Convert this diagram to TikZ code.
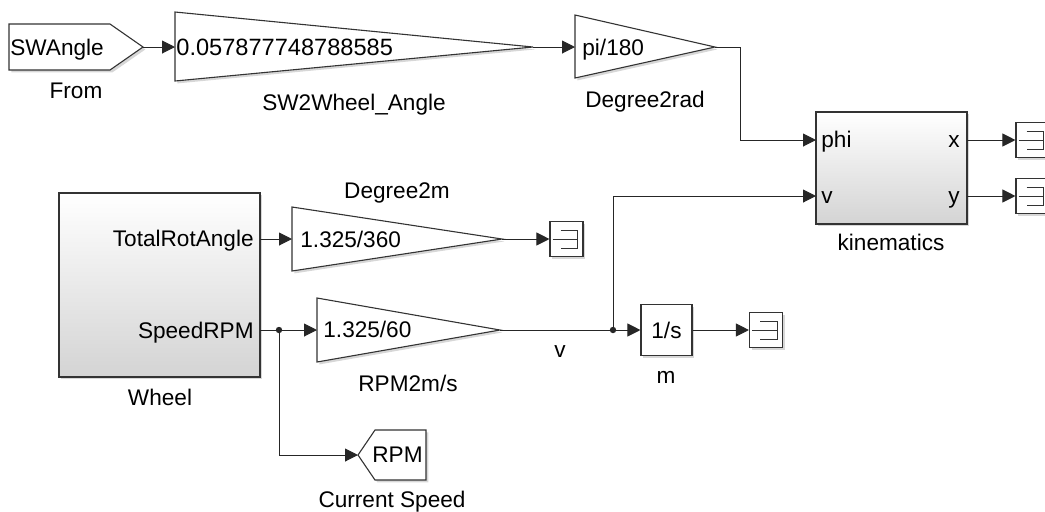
\documentclass[tikz,border=0pt]{standalone}
\usepackage{fontspec}
\setmainfont{Liberation Sans}
\usetikzlibrary{arrows.meta,shadows}

\begin{document}
\begin{tikzpicture}[
    x=0.5pt,y=-0.5pt,
    blk/.style={draw=black!80, line width=0.55pt, fill=white, drop shadow={shadow xshift=1.2pt, shadow yshift=-1.2pt, fill=black!35, opacity=0.45}},
    subsys/.style={blk, top color=white, bottom color=black!17, inner sep=0pt},
    scopeblk/.style={blk, minimum width=16.5pt, minimum height=17.5pt, inner sep=0pt,
      path picture={
        \draw[line width=0.5pt] ([shift={(-6,-9)}]path picture bounding box.center) -- ++(17,0) -- ++(0,18) -- ++(-17,0);
        \draw[line width=0.5pt] ([shift={(-14,0)}]path picture bounding box.center) -- ++(25,0);
      }},
    txt/.style={font=\fontsize{11.3}{13.5}\selectfont, inner sep=0pt, text=black},
    sig/.style={draw=black!85, line width=0.5pt, -{Triangle[length=6.5pt,width=6.5pt]}},
    dot/.style={fill=black!85}
  ]
    \useasboundingbox (0,0) rectangle (1045,511);

    % ports
    \coordinate (from out) at (143,47);
    \coordinate (sw2w in) at (175,47);
    \coordinate (sw2w out) at (533,47);
    \coordinate (d2r in) at (575,47);
    \coordinate (d2r out) at (715,47);
    \coordinate (kin phi) at (816,140);
    \coordinate (kin v) at (816,196);
    \coordinate (kin x) at (967,140);
    \coordinate (kin y) at (967,196);
    \coordinate (wheel rot) at (260,239);
    \coordinate (wheel spd) at (260,330);
    \coordinate (d2m in) at (292,239);
    \coordinate (d2m out) at (502,239);
    \coordinate (rpm in) at (317,330);
    \coordinate (rpm out) at (500,330);
    \coordinate (split1) at (279,330);
    \coordinate (split2) at (613,330);
    \coordinate (goto in) at (358,455);

    % blocks
    \draw[blk] (9,24) -- (110,24) -- (from out) -- (110,70) -- (9,70) -- cycle;
    \draw[blk] (175,12) -- (sw2w out) -- (175,81) -- cycle;
    \draw[blk] (575,15) -- (d2r out) -- (575,78) -- cycle;
    \draw[blk] (292,207) -- (d2m out) -- (292,271) -- cycle;
    \draw[blk] (317,298) -- (rpm out) -- (317,362) -- cycle;
    \draw[blk] (goto in) -- (375,430) -- (426,430) -- (426,480) -- (375,480) -- cycle;

    \node[subsys, minimum width=100.5pt, minimum height=92pt] (wheel) at (159.5,285) {};
    \node[subsys, minimum width=75.5pt, minimum height=56pt] (kin) at (891.5,168) {};
    \node[blk, txt, minimum width=25.5pt, minimum height=25.5pt] (integ) at (666.5,330) {1/s};

    \node[scopeblk] (d2mscope) at (566.5,239) {};
    \node[scopeblk] (integscope) at (766,330) {};
    \node[scopeblk] (xscope) at (1032.5,140) {};
    \node[scopeblk] (yscope) at (1032.5,196) {};

    % block texts
    \node[txt, anchor=base west] (fromtag) at (10,55) {SWAngle};
    \node[txt, anchor=base west, font=\fontsize{11.8}{14}\selectfont] (sw2wval) at (176,55) {0.057877748788585};
    \node[txt, anchor=base west] (d2rval) at (582,55) {pi/180};
    \node[txt, anchor=base west] (d2mval) at (300,247) {1.325/360};
    \node[txt, anchor=base west] (rpmval) at (323,337) {1.325/60};
    \node[txt, anchor=base west] (gototag) at (372,462) {RPM};

    \node[txt, anchor=base east] (rotport) at (254,246) {TotalRotAngle};
    \node[txt, anchor=base east] (spdport) at (254,338) {SpeedRPM};
    \node[txt, anchor=base west] (phiport) at (821,147) {phi};
    \node[txt, anchor=base west] (vport) at (821,203) {v};
    \node[txt, anchor=base east] (xport) at (960,147) {x};
    \node[txt, anchor=base east] (yport) at (960,203) {y};

    % block names
    \node[txt, anchor=base] (fromname) at (76,98) {From};
    \node[txt, anchor=base] (sw2wname) at (354,110) {SW2Wheel\_Angle};
    \node[txt, anchor=base] (d2rname) at (645,107) {Degree2rad};
    \node[txt, anchor=base] (d2mname) at (397,198) {Degree2m};
    \node[txt, anchor=base] (kinname) at (891,250) {kinematics};
    \node[txt, anchor=base] (wheelname) at (160,405) {Wheel};
    \node[txt, anchor=base] (rpmname) at (408,391) {RPM2m/s};
    \node[txt, anchor=base] (integname) at (666,383) {m};
    \node[txt, anchor=base] (gotoname) at (392,507) {Current Speed};
    \node[txt, anchor=base] (vsig) at (560,357) {v};

    % signals
    \draw[sig] (from out) -- (sw2w in);
    \draw[sig] (sw2w out) -- (d2r in);
    \draw[sig] (d2r out) -- ++(25,0) |- (kin phi);
    \draw[sig] (wheel rot) -- (d2m in);
    \draw[sig] (d2m out) -- (d2mscope.west);
    \draw[sig] (wheel spd) -- (rpm in);
    \draw[sig] (split1) |- (goto in);
    \draw[sig] (rpm out) -- (integ.west);
    \draw[sig] (split2) |- (kin v);
    \draw[sig] (integ.east) -- (integscope.west);
    \draw[sig] (kin x) -- (xscope.west);
    \draw[sig] (kin y) -- (yscope.west);
    \fill[dot] (split1) circle (1.6pt);
    \fill[dot] (split2) circle (1.6pt);
\end{tikzpicture}
\end{document}
